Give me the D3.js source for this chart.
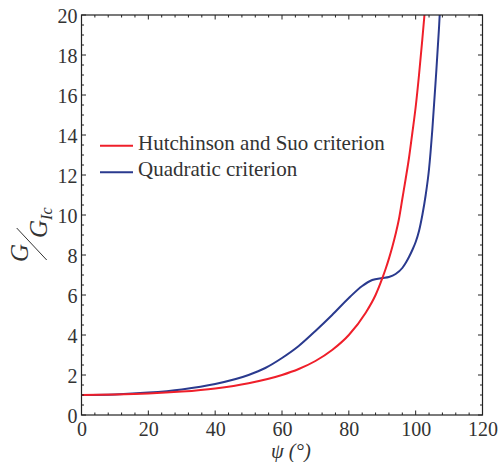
<!DOCTYPE html>
<html><head><meta charset="utf-8">
<script src="https://cdn.jsdelivr.net/npm/d3@7"></script>
<style>body{margin:0;background:#fff}svg{display:block}svg text{font-family:"Liberation Serif","Times New Roman",serif;fill:#333}</style>
</head><body>
<script>
const xTicks = [0,20,40,60,80,100,120];
const yTicks = [0,2,4,6,8,10,12,14,16,18,20];
const seriesNames = ["Hutchinson and Suo criterion","Quadratic criterion"];
const hsPsi = [0,10,20,30,40,50,60,65,70,75,80,85,88,90,91,92,93,94,95,96,97,98,99,100,101,102,103];
const hsG   = [1.00,1.02,1.07,1.17,1.33,1.59,2.0,2.3,2.7,3.25,4.0,5.1,6.0,6.83,7.3,7.82,8.4,9.05,9.8,10.8,11.8,12.85,14.1,15.4,17.0,18.8,20.7];
const qPsi = [0,10,20,30,40,50,55,60,65,70,75,80,84,87,90,92,94,96,97,98,99,100,101,102,103,104,105,106,107,107.5];
const qG   = [1.0,1.03,1.12,1.28,1.55,2.0,2.35,2.85,3.45,4.2,5.0,5.85,6.45,6.75,6.85,6.9,7.05,7.35,7.6,7.9,8.25,8.65,9.2,10.0,11.0,12.3,14.3,16.75,19.4,21.0];
const colors = ["#ef1f2a","#2a3a8e"];

const W=499,H=462;
const svg=d3.select("body").append("svg").attr("width",W).attr("height",H);
const x=d3.scaleLinear().domain([0,120]).range([81.5,482.5]);
const y=d3.scaleLinear().domain([0,20]).range([415,15]);

svg.append("clipPath").attr("id","clip").append("rect")
  .attr("x",x(0)).attr("y",y(20)).attr("width",x(120)-x(0)).attr("height",y(0)-y(20));

const line=d3.line().x(d=>x(d[0])).y(d=>y(d[1])).curve(d3.curveMonotoneX);
const data=[d3.zip(hsPsi,hsG), d3.zip(qPsi,qG)];
[1,0].forEach(i=>{
  svg.append("path").attr("clip-path","url(#clip)").attr("d",line(data[i]))
    .attr("fill","none").attr("stroke",colors[i]).attr("stroke-width",2);
});

const xMinor=d3.range(0,121,4), yMinor=d3.range(0,20.01,0.5);
const tk=svg.append("g").attr("stroke","#222").attr("stroke-width",1);
xMinor.forEach(v=>{
  const len = (v%20===0)?4.5:2.5;
  tk.append("line").attr("x1",x(v)).attr("x2",x(v)).attr("y1",y(0)).attr("y2",y(0)-len);
  tk.append("line").attr("x1",x(v)).attr("x2",x(v)).attr("y1",y(20)).attr("y2",y(20)+len);
});
yMinor.forEach(v=>{
  const len = (Math.abs(v%2)<1e-6)?4.5:2.5;
  tk.append("line").attr("y1",y(v)).attr("y2",y(v)).attr("x1",x(0)).attr("x2",x(0)+len);
  tk.append("line").attr("y1",y(v)).attr("y2",y(v)).attr("x1",x(120)).attr("x2",x(120)-len);
});
svg.append("rect").attr("x",x(0)).attr("y",y(20)).attr("width",x(120)-x(0)).attr("height",y(0)-y(20))
  .attr("fill","none").attr("stroke","#222").attr("stroke-width",1.2);

const xa=d3.axisBottom(x).tickValues(xTicks).tickSize(0).tickPadding(0);
const gx=svg.append("g").attr("transform",`translate(0,${y(0)})`).call(xa);
gx.select(".domain").remove();
gx.attr("font-family",null).attr("font-size",null);
gx.selectAll("text").attr("dy",20.5).attr("font-size",20).attr("fill","#333");
const ya=d3.axisLeft(y).tickValues(yTicks).tickSize(0).tickPadding(4);
const gy=svg.append("g").attr("transform",`translate(${x(0)},0)`).call(ya);
gy.select(".domain").remove();
gy.attr("font-family",null).attr("font-size",null);
gy.selectAll("text").attr("font-size",20).attr("fill","#333").attr("dy","0.35em");

svg.append("text").attr("x",271).attr("y",458).attr("font-size",20.5).attr("font-style","italic")
  .text("ψ (°)");

svg.append("text").attr("transform","translate(28,262) rotate(-90)").attr("font-size",25).attr("font-style","italic").text("G");
svg.append("line").attr("x1",16.7).attr("y1",228).attr("x2",46.7).attr("y2",260).attr("stroke","#333").attr("stroke-width",1);
const den=svg.append("text").attr("transform","translate(47,238) rotate(-90)").attr("font-size",25).attr("font-style","italic");
den.append("tspan").text("G");
den.append("tspan").attr("font-size",16).attr("dy",5).text("Ic");

const leg=svg.append("g");
[0,1].forEach(i=>{
  const yy=[145.7,172.3][i];
  leg.append("line").attr("x1",100).attr("x2",133).attr("y1",yy).attr("y2",yy).attr("stroke",colors[i]).attr("stroke-width",2);
  leg.append("text").attr("x",138).attr("y",yy+4).attr("font-size",21).text(seriesNames[i]);
});
</script>
</body></html>
